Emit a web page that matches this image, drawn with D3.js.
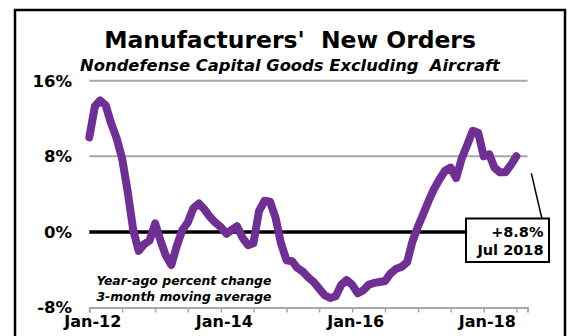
<!DOCTYPE html>
<html>
<head>
<meta charset="utf-8">
<script src="https://cdn.jsdelivr.net/npm/d3@7"></script>
<style>
  html, body { margin: 0; padding: 0; background: #ffffff; }
  svg { display: block; }
  text { font-family: "DejaVu Sans", Verdana, sans-serif; }
</style>
</head>
<body>
<svg id="chart" width="571" height="336"></svg>
<script>
// ---- Data ----
const startMonth = "2012-01";          // first observation
const endMonth = "2018-07";            // last observation
const values = [
  10.0, 13.3, 13.9, 13.4, 11.5, 9.9, 7.8, 4.3, 0.2, -2.0, -1.3, -0.9,      // 2012
  0.9, -1.0, -2.5, -3.5, -1.5, 0.2, 1.0, 2.5, 3.0, 2.4, 1.6, 1.0,           // 2013
  0.5, -0.2, 0.2, 0.6, -0.6, -1.4, -1.2, 2.2, 3.3, 3.2, 1.5, -1.2,          // 2014
  -3.0, -3.1, -3.8, -4.2, -4.8, -5.3, -6.0, -6.7, -7.0, -6.8, -5.6, -5.1,   // 2015
  -5.6, -6.5, -6.2, -5.6, -5.4, -5.3, -5.2, -4.4, -3.9, -3.7, -3.2, -1.0,   // 2016
  0.6, 2.0, 3.3, 4.6, 5.6, 6.5, 6.8, 5.7, 7.8, 9.2, 10.7, 10.5,             // 2017
  8.0, 8.2, 6.8, 6.3, 6.3, 7.1, 8.0                                         // 2018
];
const yTickValues = [-8, 0, 8, 16];
const yTickLabels = ["-8%", "0%", "8%", "16%"];
const xLabelDates = ["2012-01", "2014-01", "2016-01", "2018-01"];
const xTickLabels = ["Jan-12", "Jan-14", "Jan-16", "Jan-18"];
const axisEnd = "2018-09";
const titleText = "Manufacturers'\u00A0 New Orders";
const subtitleText = "Nondefense Capital Goods Excluding  Aircraft";
const noteLines = ["Year-ago percent change", "3-month moving average"];
const calloutLines = ["+8.8%", "Jul 2018"];

// ---- Setup ----
const parseMonth = d3.timeParse("%Y-%m");
const t0 = parseMonth(startMonth);
const dates = values.map((v, i) => d3.timeMonth.offset(t0, i));
const series = values.map((v, i) => ({ date: dates[i], value: v }));

const svg = d3.select("#chart");

const x = d3.scaleTime()
  .domain([t0, parseMonth(axisEnd)])
  .range([89.3, 527.5]);
const y = d3.scaleLinear()
  .domain([-8, 16])
  .range([307.5, 80.7]);

// Outer frame
svg.append("rect")
  .attr("x", 15).attr("y", 10)
  .attr("width", 550).attr("height", 340)
  .attr("fill", "none").attr("stroke", "#000").attr("stroke-width", 2.5);

function fitText(sel, targetWidth) {
  const fs = parseFloat(sel.attr("font-size"));
  const w = sel.node().getComputedTextLength();
  sel.attr("font-size", (fs * targetWidth / w).toFixed(2));
}

// Title + subtitle
const title = svg.append("text")
  .attr("x", 290).attr("y", 48)
  .attr("text-anchor", "middle")
  .attr("font-weight", "bold").attr("font-size", 24)
  .attr("fill", "#000")
  .text(titleText);
fitText(title, 372);

const subtitle = svg.append("text")
  .attr("x", 290).attr("y", 71)
  .attr("text-anchor", "middle")
  .attr("font-weight", "bold").attr("font-style", "italic").attr("font-size", 16)
  .attr("fill", "#000")
  .style("white-space", "pre")
  .text(subtitleText);
fitText(subtitle, 420);

// Gridlines (16%, 8%)
svg.append("g").selectAll("line")
  .data(yTickValues.filter(v => v > 0))
  .join("line")
  .attr("x1", x.range()[0]).attr("x2", x.range()[1])
  .attr("y1", d => y(d)).attr("y2", d => y(d))
  .attr("stroke", "#a8a8a8").attr("stroke-width", 2);

// Y tick labels
svg.append("g").selectAll("text")
  .data(yTickValues)
  .join("text")
  .attr("x", 72).attr("y", d => y(d))
  .attr("dy", "0.36em")
  .attr("text-anchor", "end")
  .attr("font-weight", "bold").attr("font-size", 16.5)
  .attr("fill", "#000")
  .text((d, i) => yTickLabels[i]);

// X axis
const labelMap = new Map(xLabelDates.map((d, i) => [+parseMonth(d), xTickLabels[i]]));
const xAxis = d3.axisBottom(x)
  .ticks(d3.timeMonth.every(6))
  .tickSizeInner(5).tickSizeOuter(5)
  .tickFormat(d => labelMap.get(+d) || "");
const gx = svg.append("g")
  .attr("transform", `translate(0,${y(-8)})`)
  .call(xAxis);
gx.select(".domain").attr("stroke", "#a8a8a8").attr("stroke-width", 2);
gx.selectAll(".tick line").attr("stroke", "#a8a8a8").attr("stroke-width", 1.5);
gx.selectAll(".tick text")
  .attr("font-family", "DejaVu Sans, Verdana, sans-serif")
  .attr("font-weight", "bold").attr("font-size", 16)
  .attr("fill", "#000")
  .attr("y", 8).attr("dy", "0.71em")
  .attr("dx", 3);

// Zero line
svg.append("line")
  .attr("x1", x.range()[0]).attr("x2", 470)
  .attr("y1", y(0)).attr("y2", y(0))
  .attr("stroke", "#000").attr("stroke-width", 3.5);

// Series line
const line = d3.line()
  .x(d => x(d.date))
  .y(d => y(d.value));
svg.append("path")
  .datum(series)
  .attr("d", line)
  .attr("fill", "none")
  .attr("stroke", "#6f2f94")
  .attr("stroke-width", 8)
  .attr("stroke-linejoin", "round")
  .attr("stroke-linecap", "round");

// Note text
noteLines.forEach((s, i) => {
  const t = svg.append("text")
    .attr("x", 184).attr("y", 285 + i * 15.5)
    .attr("text-anchor", "middle")
    .attr("font-weight", "bold").attr("font-style", "italic").attr("font-size", 13)
    .attr("fill", "#000")
    .text(s);
  fitText(t, 175);
});

// Callout
const last = series[series.length - 1];
svg.append("line")
  .attr("x1", x(last.date) + 15).attr("y1", y(last.value) + 17)
  .attr("x2", 542).attr("y2", 219)
  .attr("stroke", "#000").attr("stroke-width", 1.5);
svg.append("rect")
  .attr("x", 466).attr("y", 218.5)
  .attr("width", 83).attr("height", 43.5)
  .attr("fill", "#fff").attr("stroke", "#000").attr("stroke-width", 2);
calloutLines.forEach((s, i) => {
  svg.append("text")
    .attr("x", 543.5).attr("y", 236.5 + i * 18)
    .attr("text-anchor", "end")
    .attr("font-weight", "bold").attr("font-size", 14.5)
    .attr("fill", "#000")
    .text(s);
});
</script>
</body>
</html>
